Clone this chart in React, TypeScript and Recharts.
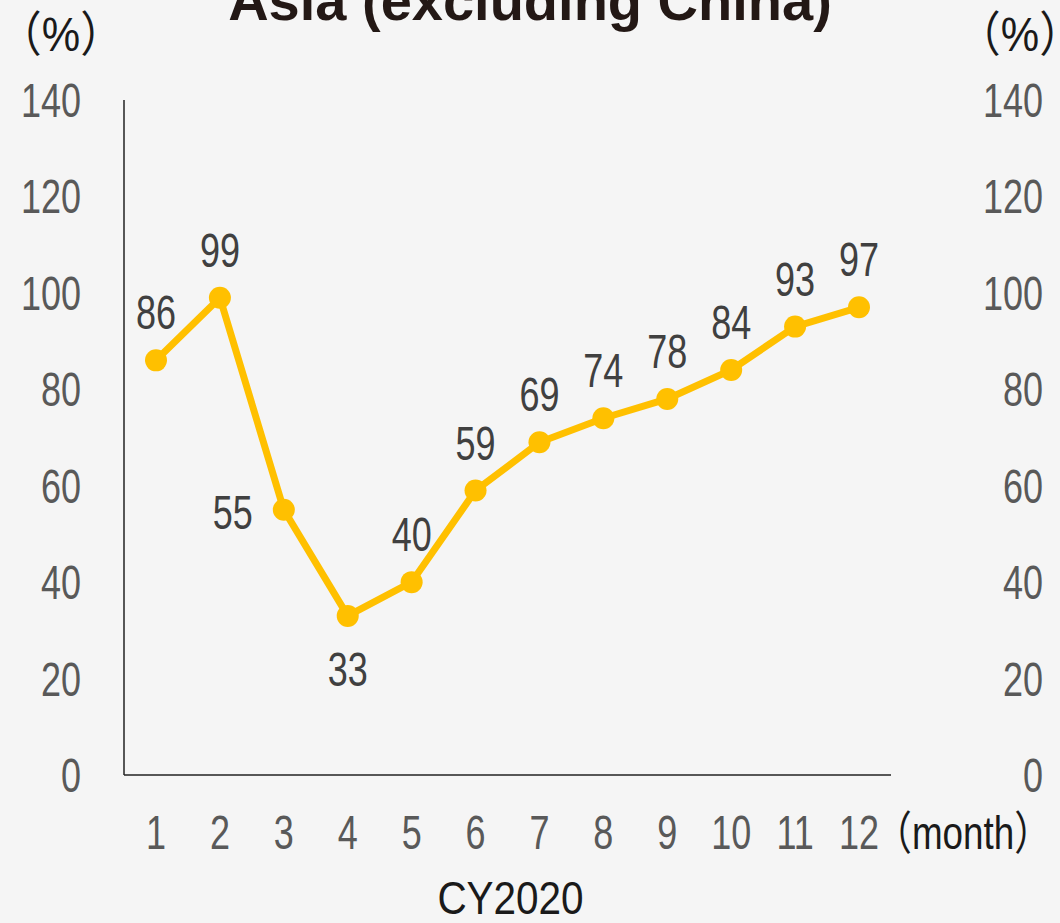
import React from 'react';
import { LineChart, Line, XAxis, YAxis, LabelList } from 'recharts';

// CY2020 monthly values, Asia (excluding China)
const months = ['1', '2', '3', '4', '5', '6', '7', '8', '9', '10', '11', '12'];
const values = [86, 99, 55, 33, 40, 59, 69, 74, 78, 84, 93, 97];
const yTicks = [0, 20, 40, 60, 80, 100, 120, 140];

// where each value label sits relative to its dot (default: above)
const labelSide: Record<string, 'left' | 'bottom'> = { '3': 'left', '4': 'bottom' };

const data = months.map((month, i) => ({ month, value: values[i] }));

const FONT = "'Liberation Sans', Arial, 'Noto Sans CJK JP', sans-serif";
const LINE = '#FFC000';
const TICK = '#595959';
const TEXT = '#1a1a1a';
const FS = 48;
const SX = 0.75; // squeeze to mimic a narrow face

// text squeezed horizontally around its anchor point
const Narrow = ({ x, y, anchor = 'middle', size = FS, sx = SX, fill = TICK, dy = '0.355em', children }: any) => (
  <text
    transform={`translate(${x},${y}) scale(${sx},1)`}
    x={0}
    y={0}
    dy={dy}
    textAnchor={anchor}
    fontSize={size}
    fill={fill}
    fontFamily={FONT}
  >
    {children}
  </text>
);

const ValueLabel = (props: any) => {
  const { x, y, value, index } = props;
  const side = labelSide[months[index]];
  if (side === 'left') {
    return <Narrow x={x - 31} y={y + 2} anchor="end" fill="#404040">{value}</Narrow>;
  }
  if (side === 'bottom') {
    return <Narrow x={x} y={y + 53} fill="#404040">{value}</Narrow>;
  }
  return <Narrow x={x} y={y - 48} fill="#404040">{value}</Narrow>;
};

const LeftTick = (p: any) => <Narrow x={p.x} y={p.y} anchor="end">{p.payload.value}</Narrow>;
const RightTick = (p: any) => <Narrow x={p.x} y={p.y} anchor="end">{p.payload.value}</Narrow>;
const BottomTick = (p: any) => <Narrow x={p.x} y={p.y} dy="0.71em">{p.payload.value}</Narrow>;

const xAxisLabels = (props: any) => {
  const vb = props.viewBox || { x: 124, y: 775, width: 767, height: 100 };
  return (
    <g>
      <Narrow x={vb.x + vb.width + 72} y={vb.y + 58} size={46} sx={0.8} fill={TEXT}>
        （month）
      </Narrow>
      <Narrow x={vb.x + vb.width / 2 + 3} y={vb.y + 123} size={46} sx={0.88} fill={TEXT}>
        CY2020
      </Narrow>
    </g>
  );
};

const percentLabel = (dx: number) => (props: any) => {
  const vb = props.viewBox || { x: 0, y: 100, width: 124 };
  return (
    <Narrow x={vb.x + dx} y={vb.y - 66} size={48} sx={0.9} fill={TEXT}>
      （%）
    </Narrow>
  );
};

export default function App() {
  return (
    <div style={{ position: 'absolute', left: 0, top: 0, width: 1060, height: 923, background: '#f5f5f5', overflow: 'hidden' }}>
      <div
        style={{
          position: 'absolute',
          left: 0,
          width: 1060,
          top: -27,
          textAlign: 'center',
          fontFamily: "'Liberation Sans', Arial, sans-serif",
          fontWeight: 'bold',
          fontSize: 56,
          lineHeight: '56px',
          color: '#231815',
        }}
      >
        Asia (excluding China)
      </div>
      <LineChart width={1060} height={923} data={data} margin={{ top: 100, right: 0, bottom: 48, left: 0 }}>
        <XAxis
          dataKey="month"
          height={100}
          padding={{ left: 32, right: 32 }}
          axisLine={{ stroke: '#222', strokeWidth: 1.5 }}
          tickLine={false}
          tickMargin={34}
          tick={BottomTick}
          interval={0}
          label={xAxisLabels}
        />
        <YAxis
          yAxisId="left"
          width={124}
          domain={[0, 140]}
          ticks={yTicks}
          axisLine={{ stroke: '#222', strokeWidth: 1.5 }}
          tickLine={false}
          tickMargin={37}
          tick={LeftTick}
          label={percentLabel(61)}
        />
        <YAxis
          yAxisId="right"
          orientation="right"
          width={169}
          domain={[0, 140]}
          ticks={yTicks}
          axisLine={false}
          tickLine={false}
          tickMargin={146}
          tick={RightTick}
          label={percentLabel(129)}
        />
        {/* the right axis only mirrors the left one; an unseen series keeps its scale alive */}
        <Line
          yAxisId="right"
          dataKey="value"
          stroke="transparent"
          dot={false}
          activeDot={false}
          legendType="none"
          isAnimationActive={false}
        />
        <Line
          yAxisId="left"
          type="linear"
          dataKey="value"
          stroke={LINE}
          strokeWidth={7}
          dot={{ r: 11, fill: LINE, stroke: LINE, strokeWidth: 0 }}
          activeDot={false}
          isAnimationActive={false}
        >
          <LabelList dataKey="value" content={<ValueLabel />} />
        </Line>
      </LineChart>
    </div>
  );
}
